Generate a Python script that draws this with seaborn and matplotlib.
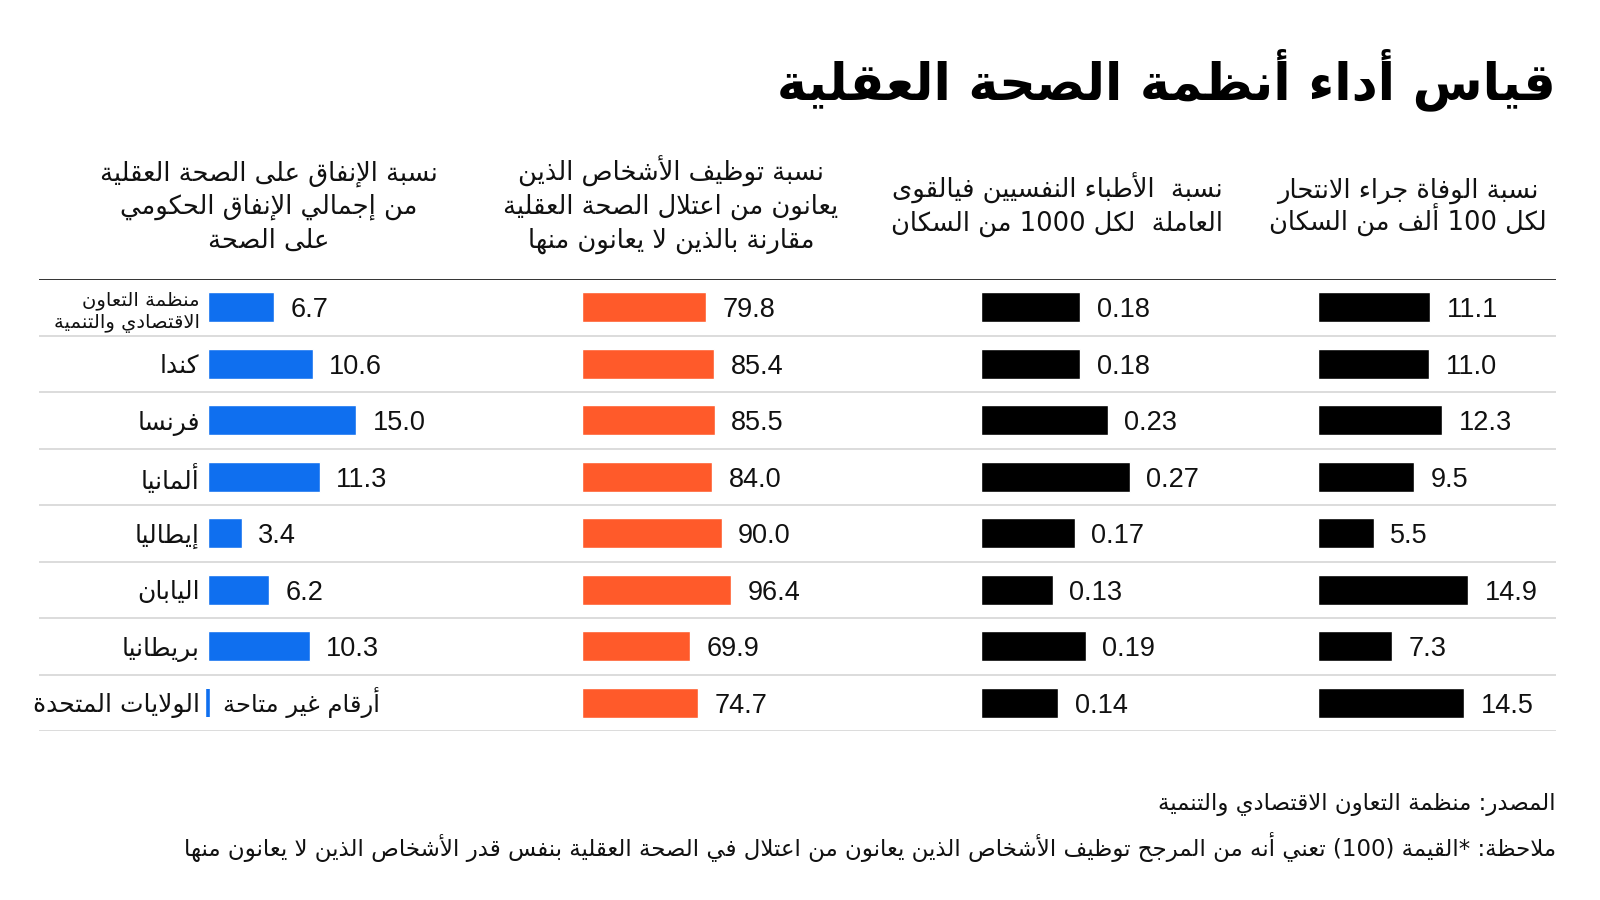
import re
import numpy as np
import pandas as pd
import matplotlib
matplotlib.use("Agg")
import matplotlib.pyplot as plt
import seaborn as sns

# ---------------- data ----------------
countries = ["منظمة التعاون\nالاقتصادي والتنمية", "كندا", "فرنسا", "ألمانيا",
             "إيطاليا", "اليابان", "بريطانيا", "الولايات المتحدة"]
suicide_rate = [11.1, 11.0, 12.3, 9.5, 5.5, 14.9, 7.3, 14.5]
psychiatrists = [0.18, 0.18, 0.23, 0.27, 0.17, 0.13, 0.19, 0.14]
employment_ratio = [79.8, 85.4, 85.5, 84.0, 90.0, 96.4, 69.9, 74.7]
spending_share = [6.7, 10.6, 15.0, 11.3, 3.4, 6.2, 10.3, np.nan]

header_suicide = "نسبة الوفاة جراء الانتحار\nلكل 100 ألف من السكان"
header_psych = "نسبة  الأطباء النفسيين فيالقوى\nالعاملة  لكل 1000 من السكان"
header_employ = "نسبة توظيف الأشخاص الذين\nيعانون من اعتلال الصحة العقلية\nمقارنة بالذين لا يعانون منها"
header_spend = "نسبة الإنفاق على الصحة العقلية\nمن إجمالي الإنفاق الحكومي\nعلى الصحة"
title_text = "قياس أداء أنظمة الصحة العقلية"
source_text = "المصدر: منظمة التعاون الاقتصادي والتنمية"
note_text = "ملاحظة: *القيمة (100) تعني أنه من المرجح توظيف الأشخاص الذين يعانون من اعتلال في الصحة العقلية بنفس قدر الأشخاص الذين لا يعانون منها"
na_text = "أرقام غير متاحة"

# ---------------- Arabic shaping (display only) ----------------
_DUAL_BASE = {
    "\u0626": 0xFE89, "\u0628": 0xFE8F, "\u062A": 0xFE95, "\u062B": 0xFE99,
    "\u062C": 0xFE9D, "\u062D": 0xFEA1, "\u062E": 0xFEA5, "\u0633": 0xFEB1,
    "\u0634": 0xFEB5, "\u0635": 0xFEB9, "\u0636": 0xFEBD, "\u0637": 0xFEC1,
    "\u0638": 0xFEC5, "\u0639": 0xFEC9, "\u063A": 0xFECD, "\u0641": 0xFED1,
    "\u0642": 0xFED5, "\u0643": 0xFED9, "\u0644": 0xFEDD, "\u0645": 0xFEE1,
    "\u0646": 0xFEE5, "\u0647": 0xFEE9, "\u064A": 0xFEF1,
}
_DUAL = {k: (chr(b), chr(b + 1), chr(b + 2), chr(b + 3)) for k, b in _DUAL_BASE.items()}
_DUAL["\u0649"] = ("\uFEEF", "\uFEF0", "\uFBE8", "\uFBE9")
_RIGHT_BASE = {
    "\u0622": 0xFE81, "\u0623": 0xFE83, "\u0624": 0xFE85, "\u0625": 0xFE87,
    "\u0627": 0xFE8D, "\u0629": 0xFE93, "\u062F": 0xFEA9, "\u0630": 0xFEAB,
    "\u0631": 0xFEAD, "\u0632": 0xFEAF, "\u0648": 0xFEED,
}
_RIGHT = {k: (chr(b), chr(b + 1)) for k, b in _RIGHT_BASE.items()}
_NONJ = {"\u0621": "\uFE80"}
_LAMALEF = {"\u0622": 0xFEF5, "\u0623": 0xFEF7, "\u0625": 0xFEF9, "\u0627": 0xFEFB}


def _shape_line(s):
    out = []
    i, n = 0, len(s)
    while i < n:
        c = s[i]
        prev = s[i - 1] if i > 0 else ""
        nxt = s[i + 1] if i + 1 < n else ""
        pj = prev in _DUAL
        if c == "\u0644" and nxt in _LAMALEF:
            out.append(chr(_LAMALEF[nxt] + (1 if pj else 0)))
            i += 2
            continue
        if c in _DUAL:
            nj = nxt in _DUAL or nxt in _RIGHT
            f = _DUAL[c]
            out.append(f[3] if (pj and nj) else f[1] if pj else f[2] if nj else f[0])
        elif c in _RIGHT:
            out.append(_RIGHT[c][1] if pj else _RIGHT[c][0])
        elif c in _NONJ:
            out.append(_NONJ[c])
        else:
            out.append(c)
        i += 1
    shaped = "".join(out)
    parts = re.findall(r"[0-9][0-9.,]*|.", shaped)[::-1]
    mirror = {"(": ")", ")": "("}
    return "".join(mirror.get(p, p) for p in parts)


def ar(s):
    return "\n".join(_shape_line(line) for line in s.split("\n"))


# ---------------- style ----------------
sns.set_theme(style="white")
plt.rcParams["font.family"] = ["DejaVu Sans"]
NUMFONT = "Liberation Sans"
BLUE, ORANGE, BLACK = "#0F6FEF", "#FF5A2A", "#000000"

W, H = 1600, 900
fig = plt.figure(figsize=(16, 9), dpi=100)
fig.patch.set_facecolor("white")


def fx(x):
    return x / W


def fy(y):
    return 1 - y / H


TOP, BOT = 279, 731
n = len(countries)

# background axis with row rules
bg = fig.add_axes([fx(39), fy(BOT), fx(1556 - 39), (BOT - TOP) / H])
bg.set_xlim(0, 1)
bg.set_ylim(n - 0.5, -0.5)
bg.axis("off")
for k in range(n):
    bg.axhline(k + 0.5, color="#d9d9d9", lw=1.3, zorder=0)
bg.axhline(-0.5, color="#222222", lw=1.3, zorder=1)

df = pd.DataFrame({
    "country": countries,
    "suicide": suicide_rate,
    "psych": psychiatrists,
    "employ": employment_ratio,
    "spend": spending_share,
})

cols = [
    # key, color, left px, width px, px per unit, format
    ("spend", BLUE, 208, 250, 9.87, "{:.1f}"),
    ("employ", ORANGE, 582, 300, 1.55, "{:.1f}"),
    ("psych", BLACK, 981, 250, 550.0, "{:.2f}"),
    ("suicide", BLACK, 1318, 230, 10.1, "{:.1f}"),
]

axes = {}
for key, color, left, width, ppu, fmt in cols:
    ax = fig.add_axes([fx(left), fy(BOT), fx(width), (BOT - TOP) / H])
    ax.patch.set_alpha(0)
    sub = df.dropna(subset=[key])
    sns.barplot(data=sub, x=key, y="country", order=countries, orient="h",
                color=color, width=0.53, errorbar=None, saturation=1,
                ax=ax, zorder=3)
    ax.set_xlim(0, width / ppu)
    ax.set_ylim(n - 0.5, -0.5)
    ax.set_xlabel("")
    ax.set_ylabel("")
    ax.set_xticks([])
    for s in ax.spines.values():
        s.set_visible(False)
    for i, v in enumerate(df[key]):
        if pd.notna(v):
            ax.annotate(fmt.format(v), xy=(v, i), xytext=(12, 0),
                        textcoords="offset points", ha="left", va="center_baseline",
                        fontsize=19.5, family=NUMFONT, color="#111111",
                        annotation_clip=False)
    axes[key] = ax
    if key != "spend":
        ax.set_yticks([])

# country labels on the leftmost column
axb = axes["spend"]
axb.set_yticks(range(n))
axb.set_yticklabels([ar(c) for c in countries])
axb.tick_params(axis="y", length=0, pad=6)
for j, lab in enumerate(axb.get_yticklabels()):
    lab.set_fontsize(14 if "\n" in countries[j] else 18)
    lab.set_color("#111111")
    lab.set_horizontalalignment("right")
    lab.set_multialignment("right")
    if "\n" in countries[j]:
        lab.set_linespacing(1.2)

# missing value marker for the US row
for i, v in enumerate(spending_share):
    if pd.isna(v):
        axb.vlines(0, i - 0.25, i + 0.25, color=BLUE, lw=2.6, zorder=3, clip_on=False)
        axb.annotate(ar(na_text), xy=(0, i), xytext=(11, 0), textcoords="offset points",
                     ha="left", va="center", fontsize=17.5, color="#111111")

# headers: one text per line for an even line pitch
HDR_CENTER, HDR_PITCH, HDR_BASE = 207, 33.5, 7
for txt, xc in [(header_suicide, 1408), (header_psych, 1057),
                (header_employ, 671), (header_spend, 269)]:
    lines = txt.split("\n")
    m = len(lines)
    for k, line in enumerate(lines):
        yc = HDR_CENTER + (k - (m - 1) / 2) * HDR_PITCH
        fig.text(fx(xc), fy(yc + HDR_BASE), ar(line), ha="center", va="baseline",
                 fontsize=18.5, color="#111111")

# title
fig.text(fx(1556), fy(80), ar(title_text), ha="right", va="center",
         fontsize=36.5, fontweight="bold", color="#000000")

# footer
fig.text(fx(1556), fy(805), ar(source_text), ha="right", va="center",
         fontsize=16.5, color="#111111")
fig.text(fx(1556), fy(847), ar(note_text), ha="right", va="center",
         fontsize=16.5, color="#111111")

fig.savefig("out.png", dpi=100, facecolor="white")
